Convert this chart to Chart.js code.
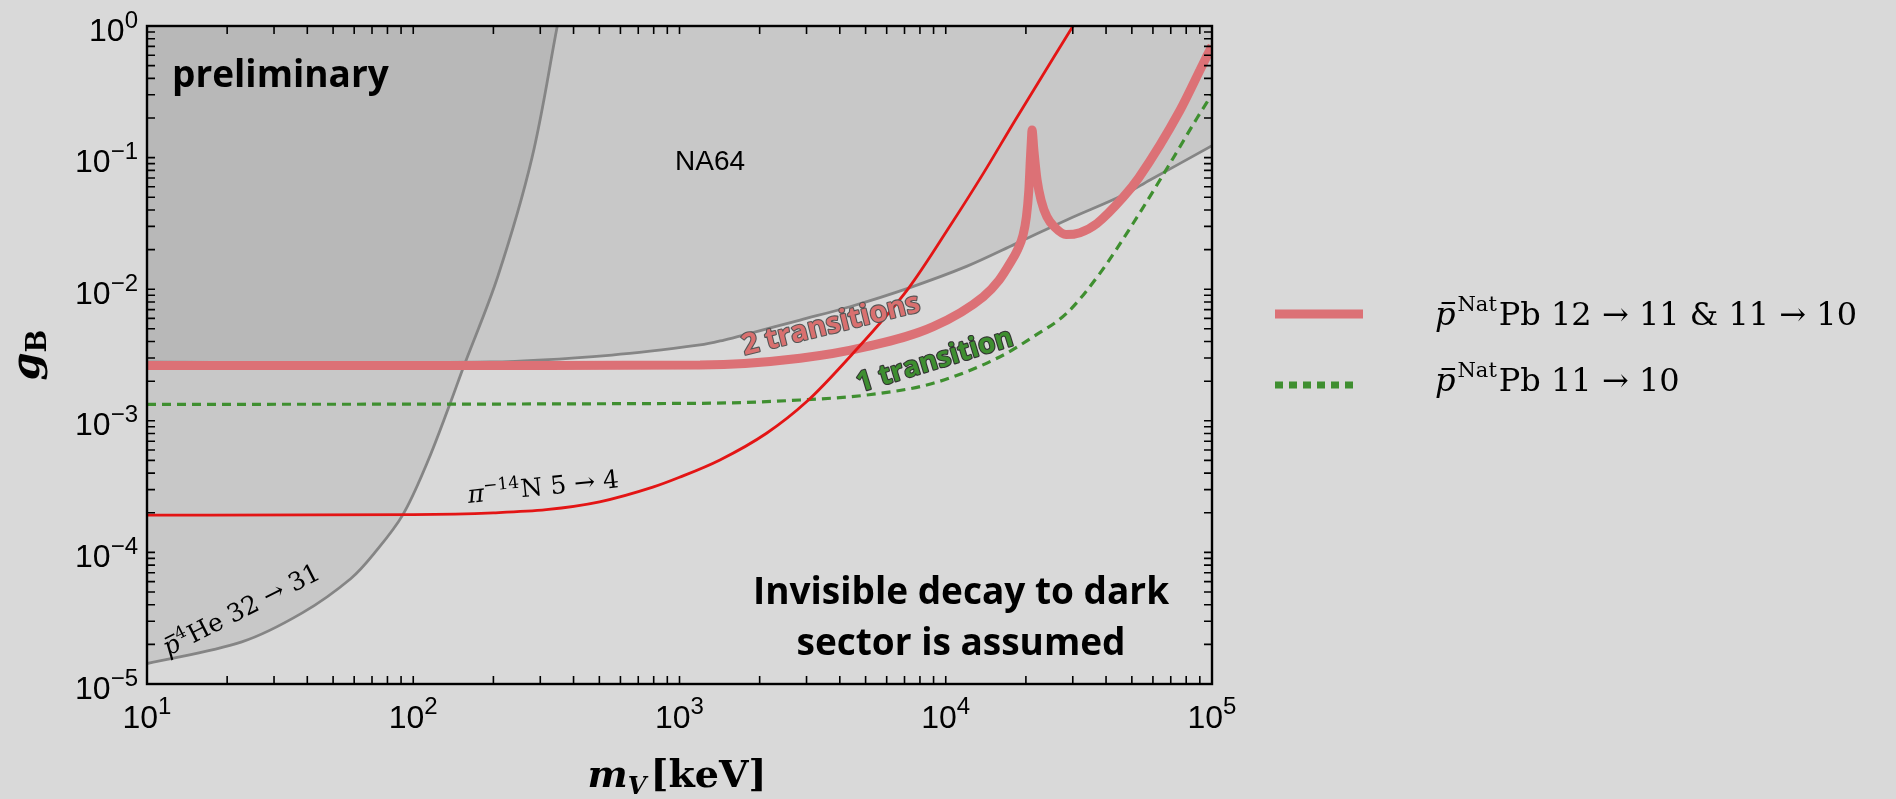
<!DOCTYPE html>
<html><head><meta charset="utf-8">
<script src="https://cdn.jsdelivr.net/npm/chart.js@4.4.0/dist/chart.umd.min.js"></script>
<style>html,body{margin:0;padding:0;background:#d9d9d9;overflow:hidden}canvas{display:block}</style>
</head><body>
<canvas id="c" width="1896" height="799"></canvas>
<script>
// ---- data (m_V in keV, g_B) ----
const naMass = [10, 195, 557, 1194, 1470, 1841, 2838, 4365, 7244, 11970, 18450, 28440, 46450, 58480, 100000];
const naG    = [2.79e-3, 2.80e-3, 3.16e-3, 3.77e-3, 4.11e-3, 4.62e-3, 5.83e-3, 7.36e-3, 1.02e-2, 1.49e-2, 2.23e-2, 3.36e-2, 5.20e-2, 6.76e-2, 0.123];

const heMass = [10, 22.7, 38.3, 58.2, 71.8, 91.2, 112.2, 137.1, 153.8, 208, 279.3, 347.5];
const heG    = [1.43e-5, 2.09e-5, 3.47e-5, 6.31e-5, 1.0e-4, 1.92e-4, 4.68e-4, 1.33e-3, 2.51e-3, 1.26e-2, 0.1, 1.0];

const piMass = [10, 100, 200, 316, 501, 794, 1000, 1419, 2123, 3006, 4365, 7244, 10370, 13840, 18160, 30060];
const piG    = [1.92e-4, 1.94e-4, 2.0e-4, 2.11e-4, 2.42e-4, 3.13e-4, 3.72e-4, 5.04e-4, 8.04e-4, 1.40e-3, 3.07e-3, 1.016e-2, 3.02e-2, 7.59e-2, 0.19, 1.0];

const twoMass = [10, 316, 1194, 2838, 5047, 8974, 13840, 15850, 17420, 18620, 19500, 20090, 20510, 20800, 20990, 21090,
                 21430, 22030, 22800, 23990, 25700, 28310, 31920, 36980, 46450, 53210, 75860, 90160, 100000];
const twoG    = [2.63e-3, 2.63e-3, 2.65e-3, 2.99e-3, 3.66e-3, 5.19e-3, 8.77e-3, 1.17e-2, 1.57e-2, 2.0e-2, 2.57e-2, 3.55e-2, 5.62e-2, 0.1, 0.141, 0.162,
                 0.114, 0.0676, 0.0476, 0.0355, 0.0295, 0.026, 0.0269, 0.0316, 0.0501, 0.0708, 0.229, 0.463, 0.708];

const oneMass = [10, 1194, 2838, 5047, 8974, 16000, 21330, 28440, 37930, 50580, 70790, 87900, 100000];
const oneG    = [1.334e-3, 1.358e-3, 1.439e-3, 1.57e-3, 1.93e-3, 3.07e-3, 4.36e-3, 6.56e-3, 1.32e-2, 3.17e-2, 9.59e-2, 0.2, 0.302];

const xTickValues = [10, 100, 1000, 10000, 100000];
const xTickExps   = ['1', '2', '3', '4', '5'];
const yTickValues = [1e-5, 1e-4, 1e-3, 1e-2, 1e-1, 1];
const yTickExps   = ['\u22125', '\u22124', '\u22123', '\u22122', '\u22121', '0'];

const legendLabels = ['Pb 12 \u2192 11 & 11 \u2192 10', 'Pb 11 \u2192 10'];

// ---- helpers ----
const pts = (xs, ys) => xs.map((x, i) => ({x: x, y: ys[i]}));
const SERIF = '"DejaVu Serif"';
const SANS = '"Liberation Sans", Arial, sans-serif';
const BOLD = '"Open Sans", "Noto Sans", sans-serif';

function runsWidth(ctx, runs) {
  let w = 0;
  for (const r of runs) { ctx.font = r.f; w += ctx.measureText(r.t).width + (r.gap || 0); }
  return w;
}
function drawRuns(ctx, runs, x, y, align, angle, color) {
  ctx.save();
  ctx.translate(x, y);
  if (angle) ctx.rotate(angle);
  ctx.textAlign = 'left';
  ctx.textBaseline = 'alphabetic';
  ctx.fillStyle = color || '#000';
  ctx.strokeStyle = color || '#000';
  const w = runsWidth(ctx, runs);
  let cx = align === 'center' ? -w / 2 : (align === 'right' ? -w : 0);
  for (const r of runs) {
    ctx.font = r.f;
    const tw = ctx.measureText(r.t).width;
    ctx.fillText(r.t, cx, r.dy || 0);
    if (r.bar) {
      ctx.lineWidth = r.barW || 1.6;
      ctx.beginPath();
      ctx.moveTo(cx + tw * 0.32, -r.bar);
      ctx.lineTo(cx + tw * 0.98, -r.bar);
      ctx.stroke();
    }
    cx += tw + (r.gap || 0);
  }
  ctx.restore();
}
function outlinedText(ctx, text, font, x, y, angle, fill, stroke) {
  ctx.save();
  ctx.translate(x, y);
  ctx.rotate(angle);
  ctx.font = font;
  ctx.textAlign = 'center';
  ctx.textBaseline = 'middle';
  ctx.lineJoin = 'round';
  ctx.lineWidth = 2.2;
  ctx.strokeStyle = stroke;
  ctx.strokeText(text, 0, 0);
  ctx.fillStyle = fill;
  ctx.fillText(text, 0, 0);
  ctx.restore();
}

const decor = {
  id: 'decor',
  afterDraw(chart) {
    const ctx = chart.ctx;
    const ca = chart.chartArea;
    const xs = chart.scales.x, ys = chart.scales.y;
    const deg = Math.PI / 180;

    // frame + inward ticks
    ctx.save();
    ctx.strokeStyle = '#000';
    ctx.lineWidth = 1.6;
    ctx.beginPath();
    for (let d = 1; d < 5; d++) for (let k = 1; k <= 9; k++) {
      const p = xs.getPixelForValue(k * Math.pow(10, d));
      ctx.moveTo(p, ca.bottom); ctx.lineTo(p, ca.bottom - 8);
      ctx.moveTo(p, ca.top); ctx.lineTo(p, ca.top + 8);
    }
    for (let d = -5; d < 0; d++) for (let k = 1; k <= 9; k++) {
      const p = ys.getPixelForValue(k * Math.pow(10, d));
      ctx.moveTo(ca.left, p); ctx.lineTo(ca.left + 8, p);
      ctx.moveTo(ca.right, p); ctx.lineTo(ca.right - 8, p);
    }
    ctx.stroke();
    ctx.lineWidth = 2.4;
    ctx.strokeRect(ca.left, ca.top, ca.right - ca.left, ca.bottom - ca.top);
    ctx.restore();

    // tick labels
    xTickValues.forEach((v, i) => {
      drawRuns(ctx, [{t: '10', f: '32px ' + SANS}, {t: xTickExps[i], f: '24px ' + SANS, dy: -14}],
        xs.getPixelForValue(v), ca.bottom + 44, 'center');
    });
    yTickValues.forEach((v, i) => {
      drawRuns(ctx, [{t: '10', f: '32px ' + SANS}, {t: yTickExps[i], f: '24px ' + SANS, dy: -13}],
        ca.left - 9, ys.getPixelForValue(v) + 14.5, 'right');
    });

    // axis titles
    drawRuns(ctx, [{t: 'g', f: 'bold italic 40px ' + SERIF}, {t: 'B', f: 'bold 27px ' + SERIF, dy: 7}],
      39, (ca.top + ca.bottom) / 2, 'center', -Math.PI / 2);
    drawRuns(ctx, [{t: 'm', f: 'bold italic 38px ' + SERIF}, {t: 'V', f: 'bold italic 24px ' + SERIF, dy: 7, gap: 4},
                   {t: '[keV]', f: 'bold 38px ' + SERIF}],
      677, 787, 'center');

    // annotations
    ctx.save();
    ctx.fillStyle = '#000';
    ctx.textBaseline = 'alphabetic';
    ctx.textAlign = 'left';
    ctx.font = 'bold 37px ' + BOLD;
    ctx.fillText('preliminary', 172, 87);
    ctx.textAlign = 'center';
    ctx.fillText('Invisible decay to dark', 961, 604);
    ctx.fillText('sector is assumed', 961, 655);
    ctx.font = '28px "Liberation Sans Narrow", "Liberation Sans", sans-serif';
    ctx.textBaseline = 'middle';
    ctx.fillText('NA64', 710, 162);
    ctx.restore();

    outlinedText(ctx, '2 transitions', 'bold 29px ' + BOLD, 831, 325, -14 * deg, '#d9706f', '#555');
    outlinedText(ctx, '1 transition', 'bold 28px ' + BOLD, 935, 361, -17 * deg, '#3e8e30', '#333');

    drawRuns(ctx, [{t: '\u03c0', f: 'italic 25px ' + SERIF}, {t: '\u221214', f: '17px ' + SERIF, dy: -10, gap: 1},
                   {t: 'N 5 \u2192 4', f: '25px ' + SERIF}], 544, 495, 'center', -6 * deg);
    drawRuns(ctx, [{t: 'p', f: 'italic 25px ' + SERIF, bar: 17}, {t: '4', f: '17px ' + SERIF, dy: -10, gap: 1},
                   {t: 'He 32 \u2192 31', f: '25px ' + SERIF}], 245, 617, 'center', -27 * deg);

    // legend
    ctx.save();
    ctx.lineCap = 'butt';
    ctx.strokeStyle = '#dc7176';
    ctx.lineWidth = 9;
    ctx.beginPath(); ctx.moveTo(1275, 314); ctx.lineTo(1363, 314); ctx.stroke();
    ctx.strokeStyle = '#3f8f30';
    ctx.lineWidth = 7;
    ctx.setLineDash([8, 6]);
    ctx.beginPath(); ctx.moveTo(1275, 385); ctx.lineTo(1358, 385); ctx.stroke();
    ctx.restore();
    [325, 391].forEach((by, i) => {
      drawRuns(ctx, [{t: 'p', f: 'italic 32px ' + SERIF, bar: 22, barW: 2, gap: 2},
                     {t: 'Nat', f: '21px ' + SERIF, dy: -14, gap: 2},
                     {t: legendLabels[i], f: '32px ' + SERIF}], 1435, by, 'left');
    });
  }
};

new Chart(document.getElementById('c').getContext('2d'), {
  type: 'line',
  data: {
    datasets: [
      {label: 'NA64', data: pts(naMass, naG), borderColor: '#858585', borderWidth: 2.8,
       fill: 'end', backgroundColor: 'rgba(0,0,0,0.08)', pointRadius: 0, tension: 0.35, order: 5, clip: 0},
      {label: 'p4He 32-31', data: pts(heMass, heG), borderColor: '#858585', borderWidth: 2.8,
       fill: 'end', backgroundColor: 'rgba(0,0,0,0.08)', pointRadius: 0, tension: 0.35, order: 4, clip: 0},
      {label: 'pPb 11-10', data: pts(oneMass, oneG), borderColor: '#3f8f30', borderWidth: 3.2, borderDash: [9, 6],
       fill: false, pointRadius: 0, cubicInterpolationMode: 'monotone', order: 3, clip: 0},
      {label: 'pPb 12-11 & 11-10', data: pts(twoMass, twoG), borderColor: '#dc7176', borderWidth: 9,
       borderJoinStyle: 'bevel', fill: false, pointRadius: 0, cubicInterpolationMode: 'monotone', order: 2, clip: 0},
      {label: 'pi14N 5-4', data: pts(piMass, piG), borderColor: '#e31515', borderWidth: 2.8,
       fill: false, pointRadius: 0, cubicInterpolationMode: 'monotone', order: 1, clip: 0}
    ]
  },
  options: {
    responsive: false,
    animation: false,
    layout: {padding: {left: 147, top: 26, right: 684, bottom: 115}},
    scales: {
      x: {type: 'logarithmic', min: 10, max: 100000, display: false},
      y: {type: 'logarithmic', min: 1e-5, max: 1, display: false}
    },
    plugins: {legend: {display: false}, tooltip: {enabled: false}}
  },
  plugins: [decor]
});
</script>
</body></html>
